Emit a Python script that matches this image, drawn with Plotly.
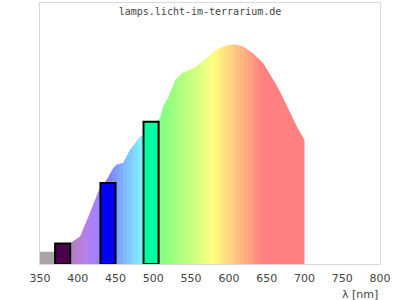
import plotly.graph_objects as go

# spectrum (relative intensity)
spec_nm = [350, 370, 380, 390, 403, 416, 421, 428, 438, 447, 451, 460, 469, 482, 487,
           509, 513, 520, 529, 537.5, 553, 562, 575, 584, 597, 608, 619, 632, 645.5,
           654, 663, 672, 681, 690, 700]
spec_val = [4.7, 4.7, 6.0, 8.0, 10.5, 19.5, 23.4, 28.4, 32.2, 36.8, 38.0, 38.8, 43.7, 48.7, 49.5,
            55.9, 60.3, 64.1, 70.5, 73.1, 75.0, 76.8, 80.1, 82.3, 83.8, 84.2, 83.3, 80.7, 76.9,
            73.1, 68.6, 63.5, 57.7, 52.6, 47.5]

# lamp peaks
peak_nm = [380, 440, 497]
peak_val = [7.9, 31.0, 54.5]
peak_colors = ["#4b004b", "#0000ff", "#00ffa0"]

tick_vals = [350, 400, 450, 500, 550, 600, 650, 700, 750, 800]
tick_text = [str(v) for v in tick_vals]


def pastel(w):
    if w < 380:
        return "#aaa4aa"
    if w < 440:
        r, g, b = (440 - w) / 60, 0.0, 1.0
    elif w < 490:
        r, g, b = 0.0, (w - 440) / 50, 1.0
    elif w < 510:
        r, g, b = 0.0, 1.0, (510 - w) / 20
    elif w < 580:
        r, g, b = (w - 510) / 70, 1.0, 0.0
    elif w < 645:
        r, g, b = 1.0, (645 - w) / 65, 0.0
    else:
        r, g, b = 1.0, 0.0, 0.0
    f = 1.0
    if w < 420:
        f = 0.3 + 0.7 * (w - 380) / 40
    r, g, b = r * f, g * f, b * f
    r, g, b = (0.5 + 0.5 * c for c in (r, g, b))
    return "#%02x%02x%02x" % tuple(int(round(c * 255)) for c in (r, g, b))


g0, g1 = 350.0, 700.0
scale = []
scale.append([0.0, pastel(360)])
scale.append([(380 - g0) / (g1 - g0), pastel(360)])
w = 380
while w < 700:
    c = pastel(w + 2.5)
    scale.append([(w - g0) / (g1 - g0), c])
    scale.append([(w + 5 - g0) / (g1 - g0), c])
    w += 5

fig = go.Figure()
fig.add_trace(go.Scatter(
    x=spec_nm, y=spec_val, mode="lines", fill="tozeroy",
    line=dict(width=0, color="rgba(0,0,0,0)"),
    fillgradient=dict(type="horizontal", start=g0, stop=g1, colorscale=scale),
    hoverinfo="skip", showlegend=False,
))
fig.add_trace(go.Bar(
    x=peak_nm, y=peak_val, width=20, xaxis="x2", yaxis="y2",
    marker=dict(color=peak_colors, line=dict(color="black", width=2)),
    showlegend=False,
))

fig.update_layout(
    width=400, height=300,
    margin=dict(l=40, r=20, t=3, b=36),
    paper_bgcolor="white", plot_bgcolor="white",
    title=dict(text="lamps.licht-im-terrarium.de", x=0.5, xref="container", xanchor="center",
               y=1 - 11 / 300, yref="container", yanchor="middle",
               font=dict(family="DejaVu Sans Mono", size=10, color="#444")),
    xaxis=dict(range=[350, 800], tickvals=tick_vals, ticktext=tick_text,
               showgrid=False, zeroline=False, showline=True, mirror=True,
               linecolor="#d8d8d8", linewidth=1, ticks="outside", ticklen=4,
               tickcolor="rgba(0,0,0,0)",
               tickfont=dict(family="DejaVu Sans", size=11, color="#444")),
    yaxis=dict(range=[0, 100], showticklabels=False, showgrid=False, zeroline=False,
               showline=True, mirror=True, linecolor="#d8d8d8", linewidth=1),
    xaxis2=dict(range=[350, 800], overlaying="x", matches="x", visible=False),
    yaxis2=dict(range=[0, 100], overlaying="y", matches="y", visible=False),
    annotations=[dict(text="λ [nm]", xref="paper", yref="paper", x=1, y=-30 / 261,
                      xanchor="right", yanchor="middle", showarrow=False,
                      font=dict(family="DejaVu Sans", size=11, color="#444"))],
)

fig.write_html("out.html")
